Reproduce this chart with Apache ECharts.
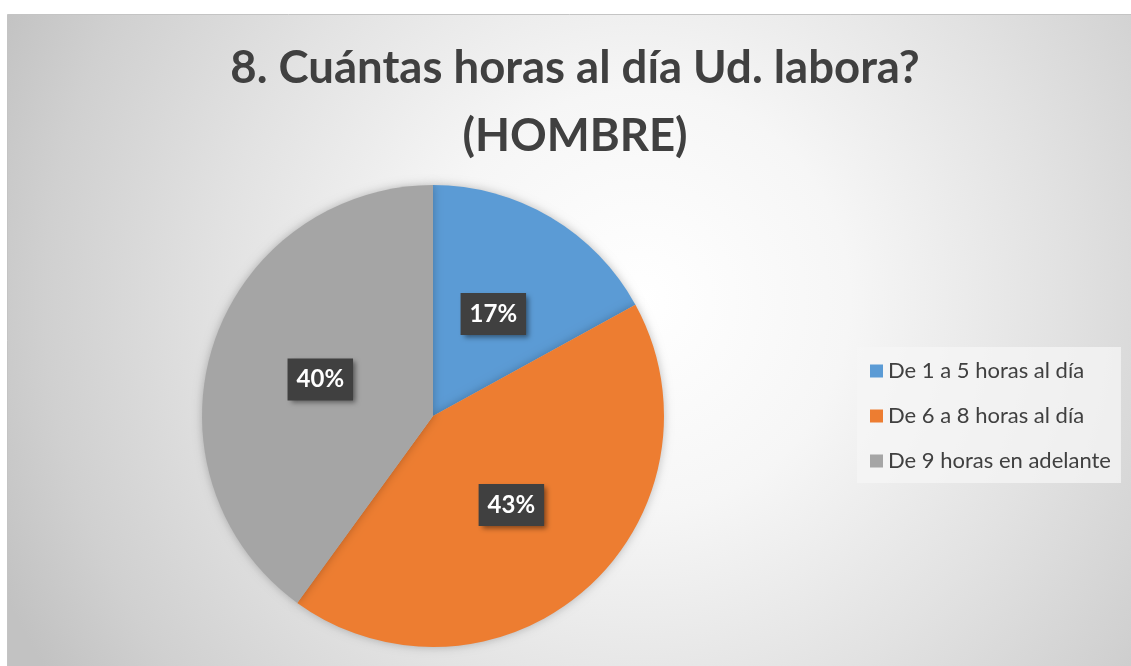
<!DOCTYPE html>
<html>
<head>
<meta charset="utf-8">
<script src="https://cdn.jsdelivr.net/npm/echarts@6/dist/echarts.min.js"></script>
<style>
  html, body { margin: 0; padding: 0; background: #ffffff; }
  #chart { width: 1131px; height: 666px; }
</style>
</head>
<body>
<div id="chart"></div>
<script>
const titleLines = ['8. Cuántas horas al día Ud. labora?', '(HOMBRE)']
const categories = ['De 1 a 5 horas al día', 'De 6 a 8 horas al día', 'De 9 horas en adelante']
const values = [17, 43, 40]
const colors = ['#5B9BD5', '#ED7D31', '#A5A5A5']

const myChart = echarts.init(document.getElementById('chart'))

const options = {
  color: colors,
  graphic: [
    {
      type: 'rect',
      z: -10,
      silent: true,
      shape: { x: 7.5, y: 14.5, width: 1130, height: 660 },
      style: {
        stroke: '#c4c4c4',
        lineWidth: 1,
        fill: {
          type: 'radial',
          x: 640,
          y: 300,
          r: 700,
          global: true,
          colorStops: [
            { offset: 0, color: '#ffffff' },
            { offset: 0.3, color: '#f6f6f6' },
            { offset: 0.6, color: '#e2e2e2' },
            { offset: 0.85, color: '#d0d0d0' },
            { offset: 1, color: '#c2c2c2' }
          ]
        }
      }
    }
  ],
  title: {
    text: titleLines.join('\n'),
    left: 575,
    top: 34,
    textAlign: 'center',
    padding: 0,
    textStyle: {
      fontFamily: 'Lato',
      fontWeight: 'bold',
      fontSize: 45.5,
      lineHeight: 68,
      color: '#404040'
    }
  },
  legend: {
    orient: 'vertical',
    left: 857,
    top: 347,
    icon: 'rect',
    itemWidth: 13,
    itemHeight: 13,
    itemGap: 19,
    padding: [11, 10, 9, 13],
    backgroundColor: 'rgba(245,245,245,0.75)',
    data: categories,
    textStyle: {
      fontFamily: 'Lato',
      fontSize: 22,
      lineHeight: 26,
      color: '#404040'
    }
  },
  series: [
    {
      type: 'pie',
      center: [433, 416],
      radius: 231,
      startAngle: 90,
      clockwise: true,
      silent: true,
      itemStyle: {
        shadowBlur: 10,
        shadowColor: 'rgba(0,0,0,0.25)'
      },
      label: {
        show: true,
        position: 'inside',
        formatter: '{d}%',
        fontFamily: 'Lato',
        fontWeight: 'bold',
        fontSize: 24,
        lineHeight: 24,
        color: '#ffffff',
        backgroundColor: '#404040',
        padding: [10, 9, 8, 9],
        shadowBlur: 5,
        shadowOffsetX: 3,
        shadowOffsetY: 3,
        shadowColor: 'rgba(0,0,0,0.45)'
      },
      labelLine: { show: false },
      data: categories.map((name, i) => ({ name, value: values[i] }))
    }
  ]
}

myChart.setOption(options)
</script>
</body>
</html>
